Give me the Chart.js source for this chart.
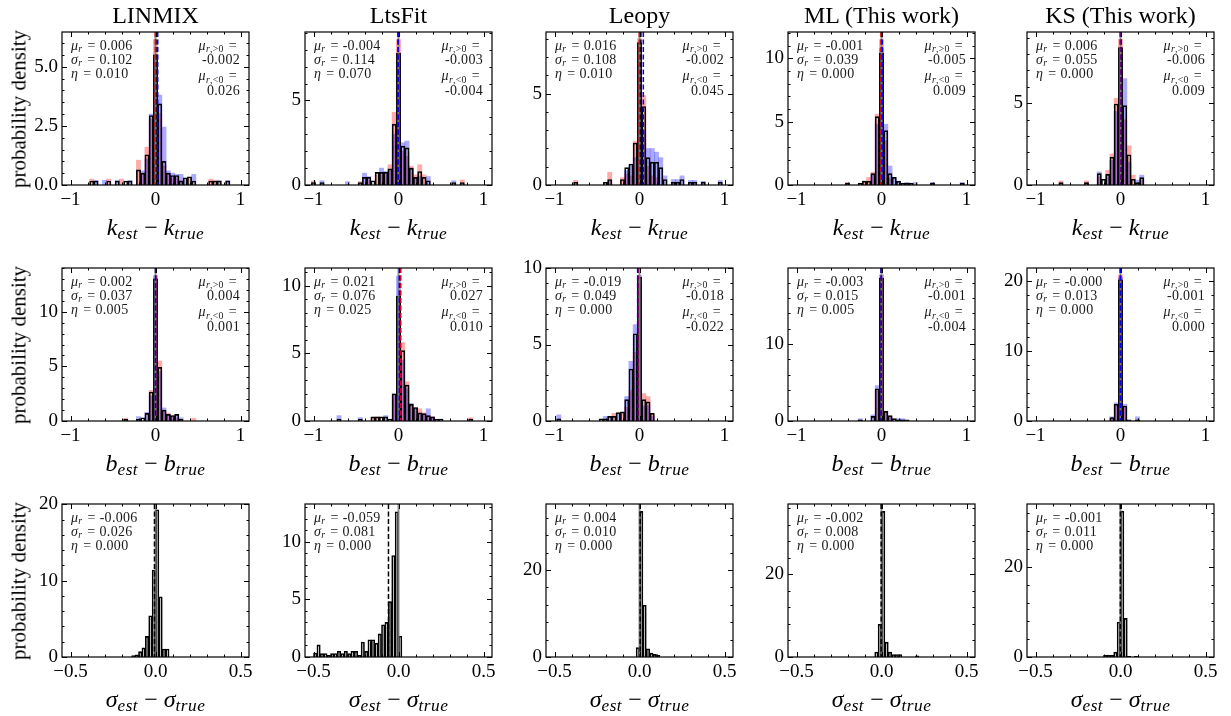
<!DOCTYPE html>
<html>
<head>
<meta charset="utf-8">
<script src="https://cdn.jsdelivr.net/npm/chart.js@4.4.0/dist/chart.umd.min.js"></script>
<style>
  body { margin: 0; background: #fff; width: 1231px; height: 716px; position: relative; overflow: hidden;
         font-family: 'Liberation Serif', 'DejaVu Serif', serif; color: #000; }
  .panel { position: absolute; }
  .panel canvas { position: absolute; left: 0; top: 0; }
  .title { position: absolute; font-size: 24px; line-height: 1; white-space: nowrap; transform: translateX(-50%); }
  .xlab { position: absolute; font-size: 24px; line-height: 1; white-space: nowrap; transform: translateX(-50%); }
  .xlab .op { margin: 0 6px; }
  .xlab sub { font-size: 72%; letter-spacing: 0.5px; }
  .ylab { position: absolute; font-size: 21px; line-height: 1; white-space: nowrap; transform: translate(-50%, -50%) rotate(-90deg); }
  .stat { position: absolute; font-size: 14px; line-height: 14px; letter-spacing: 0.3px; white-space: nowrap; color: #1a1a1a; }
  .stat.right { text-align: right; transform: translateX(-100%); line-height: 14.4px; }
  .stat .eq { margin: 0 4px 0 5px; }
  .stat .eqr { margin: 0 3px 0 5px; }
  .stat .gap { display: block; height: 1.5px; }
  sub { font-size: 70%; vertical-align: baseline; position: relative; top: 0.25em; line-height: 0; }
</style>
</head>
<body>
<script>
// ---- data ----
const methods = ['LINMIX', 'LtsFit', 'Leopy', 'ML (This work)', 'KS (This work)'];

// bins per row (k, b, sigma): first bin centre, bin width, number of bins
const binStart = [-1.05, -1.05, -0.55];
const binWidth = [0.05, 0.05, 0.02];
const binCount = [43, 43, 55];

// axis ticks
const xTicks = [[-1, 0, 1], [-1, 0, 1], [-0.5, 0, 0.5]];
const xLimit = [1.1, 1.1, 0.55];
const yTicks = [
  [[0, 2.5, 5], [0, 5], [0, 5], [0, 5, 10], [0, 5]],
  [[0, 5, 10], [0, 5, 10], [0, 5, 10], [0, 10], [0, 10, 20]],
  [[0, 10, 20], [0, 5, 10], [0, 20], [0, 20], [0, 20]]
];
const yMax = [
  [6.47, 9.05, 8.38, 12.09, 9.35],
  [14.0, 11.3, 10.0, 19.9, 21.9],
  [20.05, 13.27, 35.2, 37.0, 34.1]
];

// histograms: [bin centre, density]; Pos = r>0 (red), Neg = r<0 (blue), All = black outline
const kLinmixAll = [[-0.75,.17],[-0.7,.17],[-0.55,.17],[-0.45,.17],[-0.35,.17],[-0.3,.17],[-0.2,.64],[-0.15,.5],[-0.1,1.28],[-0.05,2.94],[0,5.5],[0.05,3.43],[0.1,1.0],[0.15,.5],[0.2,.4],[0.25,.4],[0.3,.17],[0.35,.3],[0.4,.35],[0.45,.17],[0.65,.17],[0.7,.17],[0.75,.17],[0.85,.17]];
const kLinmixPos = [[-0.75,.25],[-0.55,.25],[-0.4,.25],[-0.2,1.05],[-0.15,.5],[-0.1,1.6],[-0.05,2.8],[0,6.16],[0.05,3.0],[0.1,.8],[0.15,.5],[0.2,.3],[0.25,.3],[0.3,.2],[0.4,.3],[0.65,.25],[0.7,.2]];
const kLinmixNeg = [[-0.7,.2],[-0.6,.2],[-0.45,.2],[-0.3,.2],[-0.15,.6],[-0.1,1.1],[-0.05,3.0],[0,5.2],[0.05,3.8],[0.1,2.45],[0.15,.6],[0.2,.5],[0.25,.45],[0.3,.45],[0.35,.2],[0.45,.45],[0.75,.2],[0.85,.2]];

const kLtsfitAll = [[-1,.15],[-0.9,.15],[-0.45,.15],[-0.4,.45],[-0.35,.45],[-0.3,.25],[-0.25,.75],[-0.2,.75],[-0.15,.75],[-0.1,.95],[-0.05,3.6],[0,7.8],[0.05,2.3],[0.1,2.2],[0.15,1.0],[0.2,.45],[0.25,.8],[0.3,.45],[0.35,.25],[0.65,.15],[0.75,.15]];
const kLtsfitPos = [[-1,.25],[-0.45,.2],[-0.35,.3],[-0.25,.6],[-0.2,.6],[-0.15,.6],[-0.1,1.2],[-0.05,4.3],[0,8.6],[0.05,2.0],[0.1,1.7],[0.15,1.1],[0.2,.6],[0.25,1.2],[0.3,.6],[0.75,.3]];
const kLtsfitNeg = [[-0.9,.25],[-0.6,.2],[-0.4,.7],[-0.35,.5],[-0.2,1.0],[-0.15,.8],[-0.1,.9],[-0.05,3.0],[0,7.6],[0.05,2.5],[0.1,2.6],[0.15,1.0],[0.2,.4],[0.25,.5],[0.35,.5],[0.65,.25]];

const kLeopyAll = [[-0.75,.15],[-0.4,.15],[-0.35,.3],[-0.2,.3],[-0.15,.95],[-0.1,1.15],[-0.05,2.3],[0,7.8],[0.05,4.3],[0.1,1.5],[0.15,1.25],[0.2,1.25],[0.25,.95],[0.3,.3],[0.4,.15],[0.45,.15],[0.5,.3],[0.6,.15],[0.65,.15],[0.75,.15],[0.95,.15]];
const kLeopyPos = [[-0.75,.25],[-0.35,.7],[-0.2,.4],[-0.15,.6],[-0.1,.5],[-0.05,2.4],[0,8.0],[0.05,4.9],[0.1,1.0],[0.15,.5],[0.2,.4]];
const kLeopyNeg = [[-0.35,.2],[-0.15,.8],[-0.1,1.1],[-0.05,1.5],[0,6.6],[0.05,3.0],[0.1,2.0],[0.15,2.0],[0.2,1.8],[0.25,1.5],[0.3,.5],[0.4,.3],[0.45,.3],[0.5,.5],[0.6,.25],[0.65,.25],[0.75,.2],[0.95,.25]];

const kMlAll = [[-0.4,.15],[-0.25,.15],[-0.2,.3],[-0.15,.3],[-0.1,.9],[-0.05,5.4],[0,10.4],[0.05,4.3],[0.1,.9],[0.15,.6],[0.2,.3],[0.25,.15],[0.3,.15],[0.35,.15],[0.6,.15],[0.95,.15]];
const kMlPos = [[-0.4,.2],[-0.2,.3],[-0.15,.6],[-0.1,1.0],[-0.05,5.6],[0,11.5],[0.05,3.5],[0.1,.5]];
const kMlNeg = [[-0.1,.8],[-0.05,4.8],[0,10.8],[0.05,4.8],[0.1,1.5],[0.15,.5],[0.2,.3],[0.3,.2],[0.4,.2],[0.6,.2],[0.95,.2]];

const kKsAll = [[-0.7,.15],[-0.4,.15],[-0.25,.7],[-0.2,.35],[-0.15,.65],[-0.1,1.7],[-0.05,4.95],[0,8.4],[0.05,4.85],[0.1,1.85],[0.15,.35],[0.2,.15],[0.25,.45]];
const kKsPos = [[-0.7,.25],[-0.4,.25],[-0.25,.5],[-0.15,.9],[-0.1,1.9],[-0.05,5.3],[0,8.9],[0.05,4.0],[0.1,2.4],[0.15,.6],[0.25,.3]];
const kKsNeg = [[-0.25,.8],[-0.15,.5],[-0.1,1.5],[-0.05,4.5],[0,7.8],[0.05,6.5],[0.1,1.4],[0.2,.3],[0.25,.6]];

const bLinmixAll = [[-0.35,.15],[-0.2,.15],[-0.15,.3],[-0.1,.7],[-0.05,2.65],[0,13.0],[0.05,4.9],[0.1,1.0],[0.15,.6],[0.2,.5],[0.25,.6],[0.3,.15]];
const bLinmixPos = [[-0.35,.25],[-0.05,2.8],[0,13.0],[0.05,5.5],[0.1,.9],[0.15,.7],[0.2,.5],[0.25,.3],[0.45,.25]];
const bLinmixNeg = [[-0.2,.4],[-0.1,.8],[-0.05,2.3],[0,13.3],[0.05,4.5],[0.1,1.2],[0.15,.6],[0.2,.4],[0.25,.6],[0.3,.3]];

const bLtsfitAll = [[-0.7,.15],[-0.45,.15],[-0.3,.3],[-0.25,.3],[-0.2,.3],[-0.15,.3],[-0.1,.15],[-0.05,2.0],[0,9.2],[0.05,5.2],[0.1,2.65],[0.15,1.23],[0.2,1.0],[0.25,.6],[0.3,.55],[0.35,.4],[0.4,.3],[0.45,.15],[0.5,.15],[0.85,.15]];
const bLtsfitPos = [[-0.3,.25],[-0.25,.3],[-0.05,1.8],[0,9.0],[0.05,5.8],[0.1,2.9],[0.15,1.2],[0.2,1.0],[0.25,.9],[0.3,.6],[0.35,.4],[0.4,.3],[0.85,.25]];
const bLtsfitNeg = [[-0.7,.4],[-0.45,.25],[-0.15,.4],[-0.05,2.0],[0,10.7],[0.05,4.5],[0.1,2.4],[0.15,1.3],[0.2,.9],[0.25,.5],[0.3,.5],[0.35,.9],[0.4,.3]];

const bLeopyAll = [[-0.95,.15],[-0.45,.15],[-0.4,.15],[-0.35,.3],[-0.3,.3],[-0.25,.55],[-0.2,.6],[-0.15,1.4],[-0.1,3.4],[-0.05,5.7],[0,9.4],[0.05,1.4],[0.1,1.25],[0.15,.5]];
const bLeopyPos = [[-0.3,.5],[-0.2,.5],[-0.15,.9],[-0.1,2.0],[-0.05,4.5],[0,9.0],[0.05,1.8],[0.1,1.6],[0.15,.4]];
const bLeopyNeg = [[-0.95,.4],[-0.4,.3],[-0.35,.3],[-0.25,.5],[-0.15,1.6],[-0.1,3.9],[-0.05,6.3],[0,9.5],[0.05,1.0],[0.1,1.0],[0.15,.3]];

const bMlAll = [[-0.25,.15],[-0.1,.6],[-0.05,4.2],[0,18.6],[0.05,1.25],[0.1,.7],[0.15,.3],[0.2,.15],[0.25,.15],[0.3,.15]];
const bMlPos = [[-0.05,4.0],[0,18.6],[0.05,1.2],[0.1,.6]];
const bMlNeg = [[-0.25,.3],[-0.1,.8],[-0.05,4.6],[0,19.0],[0.05,1.3],[0.1,.6],[0.2,.3],[0.25,.3]];

const bKsAll = [[-0.1,.5],[-0.05,2.4],[0,20.2],[0.05,2.15],[0.1,.15],[0.2,.15]];
const bKsPos = [[-0.1,.4],[-0.05,2.3],[0,20.9],[0.05,2.0]];
const bKsNeg = [[-0.1,.6],[-0.05,2.6],[0,20.5],[0.05,2.4],[0.2,.6]];

const sLinmixAll = [[-0.13,.2],[-0.11,.3],[-0.09,.7],[-0.07,1.2],[-0.05,2.7],[-0.03,5.4],[-0.01,11.4],[0.01,19.3],[0.03,7.9],[0.05,1.05],[0.07,1.05]];
const sLtsfitAll = [[-0.49,.35],[-0.47,1.05],[-0.45,.3],[-0.43,.3],[-0.41,.15],[-0.39,.3],[-0.37,.3],[-0.35,.5],[-0.33,.3],[-0.31,.5],[-0.29,.3],[-0.27,.5],[-0.25,.5],[-0.23,.15],[-0.21,1.3],[-0.19,.5],[-0.17,1.5],[-0.15,1.5],[-0.13,1.2],[-0.11,2.0],[-0.09,2.8],[-0.07,3.0],[-0.05,4.8],[-0.03,8.8],[-0.01,12.6],[0.01,1.8]];
const sLeopyAll = [[-0.01,2.15],[0.01,33.5],[0.03,11.9],[0.05,1.9],[0.07,.9],[0.09,.6],[0.11,.4]];
const sMlAll = [[-0.03,1.2],[-0.01,7.9],[0.01,35.2],[0.03,3.6],[0.05,1.2],[0.07,.6],[0.09,.6],[0.11,.6],[0.21,.3]];
const sKsAll = [[-0.09,.4],[-0.07,.4],[-0.05,.4],[-0.03,1.1],[-0.01,7.8],[0.01,32.5],[0.03,8.6],[0.05,.15],[0.09,.15]];

const histAll = [
  [kLinmixAll, kLtsfitAll, kLeopyAll, kMlAll, kKsAll],
  [bLinmixAll, bLtsfitAll, bLeopyAll, bMlAll, bKsAll],
  [sLinmixAll, sLtsfitAll, sLeopyAll, sMlAll, sKsAll]
];
const histPos = [
  [kLinmixPos, kLtsfitPos, kLeopyPos, kMlPos, kKsPos],
  [bLinmixPos, bLtsfitPos, bLeopyPos, bMlPos, bKsPos],
  null
];
const histNeg = [
  [kLinmixNeg, kLtsfitNeg, kLeopyNeg, kMlNeg, kKsNeg],
  [bLinmixNeg, bLtsfitNeg, bLeopyNeg, bMlNeg, bKsNeg],
  null
];

// summary statistics printed in each panel
const muR    = [['0.006', '-0.004', '0.016', '-0.001', '0.006'],
                ['0.002', '0.021', '-0.019', '-0.003', '-0.000'],
                ['-0.006', '-0.059', '0.004', '-0.002', '-0.001']];
const sigmaR = [['0.102', '0.114', '0.108', '0.039', '0.055'],
                ['0.037', '0.076', '0.049', '0.015', '0.013'],
                ['0.026', '0.081', '0.010', '0.008', '0.011']];
const etaR   = [['0.010', '0.070', '0.010', '0.000', '0.000'],
                ['0.005', '0.025', '0.000', '0.005', '0.000'],
                ['0.000', '0.000', '0.000', '0.000', '0.000']];
const muPos  = [['-0.002', '-0.003', '-0.002', '-0.005', '-0.006'],
                ['0.004', '0.027', '-0.018', '-0.001', '-0.001'],
                null];
const muNeg  = [['0.026', '-0.004', '0.045', '0.009', '0.009'],
                ['0.001', '0.010', '-0.022', '-0.004', '0.000'],
                null];

const xLabels = [
  '<i>k</i><sub><i>est</i></sub><span class="op">\u2212</span><i>k</i><sub><i>true</i></sub>',
  '<i>b</i><sub><i>est</i></sub><span class="op">\u2212</span><i>b</i><sub><i>true</i></sub>',
  '<i>\u03c3</i><sub><i>est</i></sub><span class="op">\u2212</span><i>\u03c3</i><sub><i>true</i></sub>'
];

// ---- layout ----
const L = [62, 305, 546, 788, 1027];
const T = [32, 268, 504];
const W = 187, H = 153;
const PADL = 50, PADT = 8, PADR = 14, PADB = 32;
const FONT = "'Liberation Serif', 'DejaVu Serif', serif";

const fmt = (v, d) => (v < 0 ? '\u2212' : '') + Math.abs(v).toFixed(d);

function binned(pairs, r) {
  const vals = new Array(binCount[r]).fill(null);
  pairs.forEach(([x, h]) => { vals[Math.round((x - binStart[r]) / binWidth[r])] = h; });
  return vals.map((h, i) => ({ x: binStart[r] + i * binWidth[r], y: h }));
}

function minorTicks(scale, major) {
  const step = (major[1] - major[0]) / 5;
  const out = [];
  for (let i = Math.ceil(scale.min / step - 1e-9); i * step <= scale.max + 1e-9; i++) out.push(i * step);
  return out;
}

const framePlugin = {
  id: 'frame',
  afterDatasetsDraw(chart, args, opts) {
    const { ctx, chartArea: a, scales: { x, y } } = chart;
    ctx.save();
    ctx.beginPath();
    ctx.rect(a.left, a.top, a.right - a.left, a.bottom - a.top);
    ctx.clip();
    opts.lines.forEach(ln => {
      const px = x.getPixelForValue(ln.v);
      ctx.beginPath();
      ctx.strokeStyle = ln.color;
      ctx.lineWidth = ln.w;
      ctx.setLineDash(ln.dash);
      ctx.moveTo(px, a.top);
      ctx.lineTo(px, a.bottom);
      ctx.stroke();
    });
    ctx.restore();

    ctx.save();
    ctx.strokeStyle = '#000';
    ctx.lineWidth = 1;
    const xs = x.ticks.map(t => t.value), ys = y.ticks.map(t => t.value);
    const tick = (len, vals, horiz) => {
      vals.forEach(v => {
        if (horiz) {
          const p = Math.round(x.getPixelForValue(v)) + 0.5;
          ctx.beginPath(); ctx.moveTo(p, a.bottom); ctx.lineTo(p, a.bottom - len); ctx.stroke();
          ctx.beginPath(); ctx.moveTo(p, a.top); ctx.lineTo(p, a.top + len); ctx.stroke();
        } else {
          const p = Math.round(y.getPixelForValue(v)) + 0.5;
          ctx.beginPath(); ctx.moveTo(a.left, p); ctx.lineTo(a.left + len, p); ctx.stroke();
          ctx.beginPath(); ctx.moveTo(a.right, p); ctx.lineTo(a.right - len, p); ctx.stroke();
        }
      });
    };
    tick(5, xs, true);
    tick(2.5, minorTicks(x, xs), true);
    tick(5, ys, false);
    tick(2.5, minorTicks(y, ys), false);
    ctx.lineWidth = 1.2;
    ctx.strokeRect(a.left, a.top, a.right - a.left, a.bottom - a.top);
    ctx.restore();
  }
};

function addText(cls, html, left, top) {
  const d = document.createElement('div');
  d.className = cls;
  d.innerHTML = html;
  d.style.left = left + 'px';
  d.style.top = top + 'px';
  document.body.appendChild(d);
  return d;
}

const EQ = '<span class="eq">=</span>';
const EQR = '<span class="eqr">=</span>';

for (let r = 0; r < 3; r++) {
  for (let c = 0; c < 5; c++) {
    const box = document.createElement('div');
    box.className = 'panel';
    box.style.left = (L[c] - PADL) + 'px';
    box.style.top = (T[r] - PADT) + 'px';
    const cv = document.createElement('canvas');
    cv.width = W + PADL + PADR;
    cv.height = H + PADT + PADB;
    box.appendChild(cv);
    document.body.appendChild(box);

    const datasets = [{
      data: binned(histAll[r][c], r),
      backgroundColor: 'rgba(0,0,0,0)',
      borderColor: '#000',
      borderWidth: 1,
      order: 0
    }];
    if (histPos[r]) {
      datasets.push({ data: binned(histNeg[r][c], r), backgroundColor: 'rgba(0,0,255,0.33)', borderWidth: 0, order: 1 });
      datasets.push({ data: binned(histPos[r][c], r), backgroundColor: 'rgba(255,0,0,0.33)', borderWidth: 0, order: 2 });
    }
    datasets.forEach(d => { d.grouped = false; d.barPercentage = 1; d.categoryPercentage = 1; });

    const lines = [{ v: 0, color: 'rgba(120,120,120,0.85)', w: 2, dash: [] },
                   { v: parseFloat(muR[r][c]), color: '#000', w: 1.5, dash: [5, 2.5] }];
    if (muPos[r]) {
      lines.push({ v: parseFloat(muPos[r][c]), color: '#ff0000', w: 1.5, dash: [5, 2.5] });
      lines.push({ v: parseFloat(muNeg[r][c]), color: '#0000ff', w: 1.5, dash: [5, 2.5] });
    }

    const yt = yTicks[r][c];
    const yDec = yt.some(v => v % 1 !== 0) ? 1 : 0;
    const xDec = r === 2 ? 1 : 0;

    new Chart(cv, {
      type: 'bar',
      data: { datasets },
      plugins: [framePlugin],
      options: {
        responsive: false,
        animation: false,
        layout: { padding: { left: 0, top: PADT, right: PADR, bottom: 0 } },
        plugins: { legend: { display: false }, tooltip: { enabled: false }, frame: { lines } },
        scales: {
          x: {
            type: 'linear', min: -xLimit[r], max: xLimit[r], offset: false,
            grid: { display: false, drawTicks: false }, border: { display: false },
            afterBuildTicks: s => { s.ticks = xTicks[r].map(v => ({ value: v })); },
            afterFit: s => { s.height = PADB; s.paddingLeft = 0; s.paddingRight = 0; },
            ticks: { padding: 4, maxRotation: 0, autoSkip: false, color: '#000',
                     font: { family: FONT, size: 19 }, callback: v => fmt(v, xDec) }
          },
          y: {
            min: 0, max: yMax[r][c],
            grid: { display: false, drawTicks: false }, border: { display: false },
            afterBuildTicks: s => { s.ticks = yt.map(v => ({ value: v })); },
            afterFit: s => { s.width = PADL; s.paddingTop = 0; s.paddingBottom = 0; },
            ticks: { padding: 4, autoSkip: false, color: '#000',
                     font: { family: FONT, size: 19 }, callback: v => fmt(v, yDec) }
          }
        }
      }
    });

    // panel annotations
    addText('stat',
      `<i>\u03bc</i><sub><i>r</i></sub>${EQ}${muR[r][c]}<br>` +
      `<i>\u03c3</i><sub><i>r</i></sub>${EQ}${sigmaR[r][c]}<br>` +
      `<i>\u03b7</i>${EQ}${etaR[r][c]}`, L[c] + 9, T[r] + 7);
    if (muPos[r]) {
      addText('stat right',
        `<i>\u03bc</i><sub><i>r</i>,&gt;0</sub>${EQR}<br>${muPos[r][c]}<span class="gap"></span>` +
        `<i>\u03bc</i><sub><i>r</i>,&lt;0</sub>${EQR}<br>${muNeg[r][c]}`, L[c] + W - 9, T[r] + 7);
    }
    addText('xlab', xLabels[r], L[c] + W / 2, T[r] + H + 30);
    if (r === 0) addText('title', methods[c], L[c] + W / 2, 3);
    if (c === 0) addText('ylab', 'probability density', 19, T[r] + H / 2);
  }
}
</script>
</body>
</html>
